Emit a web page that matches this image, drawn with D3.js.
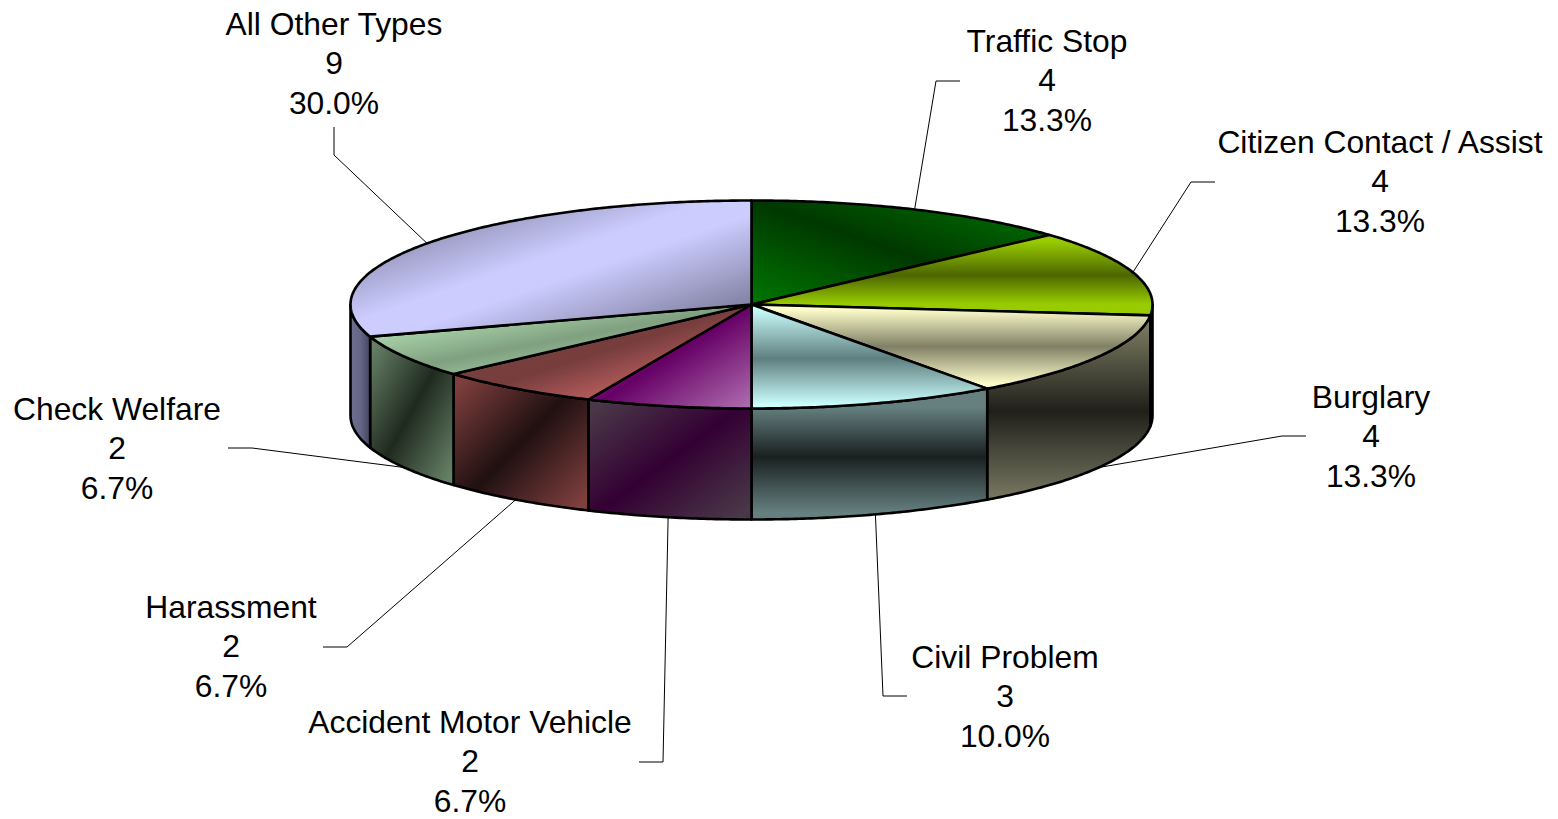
<!DOCTYPE html>
<html>
<head>
<meta charset="utf-8">
<script src="https://cdn.jsdelivr.net/npm/d3@7"></script>
<style>
body{margin:0;background:#fff;overflow:hidden;}
text{font-family:"Liberation Sans",Arial,sans-serif;font-size:31.8px;fill:#000;}
</style>
</head>
<body>
<div id="chart"></div>
<script>
var categories=["Traffic Stop","Citizen Contact / Assist","Burglary","Civil Problem","Accident Motor Vehicle","Harassment","Check Welfare","All Other Types"];
var counts=[4,4,4,3,2,2,2,9];
var percents=["13.3%","13.3%","13.3%","10.0%","6.7%","6.7%","6.7%","30.0%"];

var width=1558,height=819;
var cx=751.5,cy=304.5,rx=401,ry=104,depth=111;

// gradient for the top of each slice: [direction, [offset,colour], ...]
var topColors=[
	["up",[0,"#007800"],[0.5,"#003800"],[1,"#007800"]],
	["v",[0.08,"#99cc00"],[0.5,"#4d6600"],[0.86,"#99cc00"]],
	["v",[0.05,"#ffffcc"],[0.5,"#808066"],[0.95,"#ffffcc"]],
	["v",[0.03,"#ccffff"],[0.52,"#5f7f7f"],[0.97,"#ccffff"]],
	["down",[0,"#cc80cc"],[0.5,"#660066"],[1,"#b070b0"]],
	["down",[0,"#7a4545"],[0.5,"#773d3d"],[1,"#ff8080"]],
	["down",[0,"#ccffcc"],[0.5,"#80a080"],[1,"#ccffcc"]],
	["down",[0,"#666680"],[0.45,"#ccccff"],[0.55,"#ccccff"],[1,"#666680"]]
];
var sideColors=[
	["v",[0,"#004000"],[0.5,"#001a00"],[1,"#004000"]],
	["v",[0,"#4d6600"],[0.5,"#263300"],[1,"#4d6600"]],
	["v",[0.02,"#808066"],[0.52,"#20201a"],[0.98,"#757560"]],
	["v",[0.14,"#668080"],[0.52,"#1a2020"],[0.95,"#668080"]],
	["down",[0.05,"#4a3848"],[0.5,"#330033"],[0.95,"#4a3848"]],
	["down",[0.05,"#803f3f"],[0.5,"#201010"],[0.95,"#803f3f"]],
	["down",[0.05,"#668066"],[0.5,"#1f2a1f"],[0.95,"#668066"]],
	["h",[0,"#6e6e8e"],[0.5,"#666688"],[1,"#44445f"]]
];
// label centre x and first baseline, then the two leader elbow points
var labelLayout=[
	{x:1047,y:52,line:[[960,81],[936,81]]},
	{x:1380,y:153,line:[[1215,182],[1191,182]]},
	{x:1371,y:408,line:[[1306,436],[1282,436]]},
	{x:1005,y:668,line:[[907,696],[883,696]]},
	{x:470,y:733,line:[[639,762],[663,762]]},
	{x:231,y:618,line:[[323,647],[347,647]]},
	{x:117,y:420,line:[[228,448],[252,448]]},
	{x:334,y:35,line:[[334,127],[334,155]]}
];

var svg=d3.select("#chart").append("svg").attr("width",width).attr("height",height);
var defs=svg.append("defs");

function AddGradient(id,spec){
	var g=defs.append("linearGradient").attr("id",id);
	var dirs={v:[0,0,0,1],h:[0,0,1,0],down:[0,0,1,1],up:[0,1,1,0]};
	var d=dirs[spec[0]];
	g.attr("x1",d[0]).attr("y1",d[1]).attr("x2",d[2]).attr("y2",d[3]);
	g.selectAll("stop").data(spec.slice(1)).enter().append("stop")
		.attr("offset",function(c){return c[0];})
		.attr("stop-color",function(c){return c[1];});
}
topColors.forEach(function(s,i){AddGradient("top"+i,s);});
sideColors.forEach(function(s,i){AddGradient("side"+i,s);});

var pie=d3.pie().sort(null).startAngle(0).endAngle(2*Math.PI);
var slices=pie(counts);

function Rim(a,dy){
	return [cx+rx*Math.sin(a),cy-ry*Math.cos(a)+(dy||0)];
}
function RimRange(a0,a1,dy){
	var n=Math.max(2,Math.ceil((a1-a0)/0.01));
	return d3.range(n+1).map(function(i){return Rim(a0+(a1-a0)*i/n,dy);});
}
var line=d3.line();

// leaders go under the pie
slices.forEach(function(s,i){
	var mid=(s.startAngle+s.endAngle)/2;
	var front=Math.cos(mid)<0;
	var end=Rim(mid,front?depth:0);
	svg.append("path")
		.attr("d",line(labelLayout[i].line.concat([end])))
		.attr("fill","none")
		.attr("stroke","#000")
		.attr("stroke-width",1);
});

// front wall, only the part between 90 and 270 degrees shows
slices.forEach(function(s,i){
	var a0=Math.max(s.startAngle,Math.PI/2);
	var a1=Math.min(s.endAngle,3*Math.PI/2);
	if(a1<=a0) return;
	var pts=RimRange(a0,a1,0).concat(RimRange(a0,a1,depth).reverse());
	svg.append("path")
		.attr("d",line(pts)+"Z")
		.attr("fill","url(#side"+i+")")
		.attr("stroke","#000")
		.attr("stroke-width",2.6)
		.attr("stroke-linejoin","round");
});

// top faces
slices.forEach(function(s,i){
	var pts=[[cx,cy]].concat(RimRange(s.startAngle,s.endAngle,0));
	svg.append("path")
		.attr("d",line(pts)+"Z")
		.attr("fill","url(#top"+i+")")
		.attr("stroke","#000")
		.attr("stroke-width",2.6)
		.attr("stroke-linejoin","round");
});

// labels
categories.forEach(function(name,i){
	var l=labelLayout[i];
	var rows=[name,counts[i],percents[i]];
	var offs=[0,39,79];
	rows.forEach(function(t,j){
		svg.append("text")
			.attr("x",l.x)
			.attr("y",l.y+offs[j])
			.attr("text-anchor","middle")
			.text(t);
	});
});
</script>
</body>
</html>
